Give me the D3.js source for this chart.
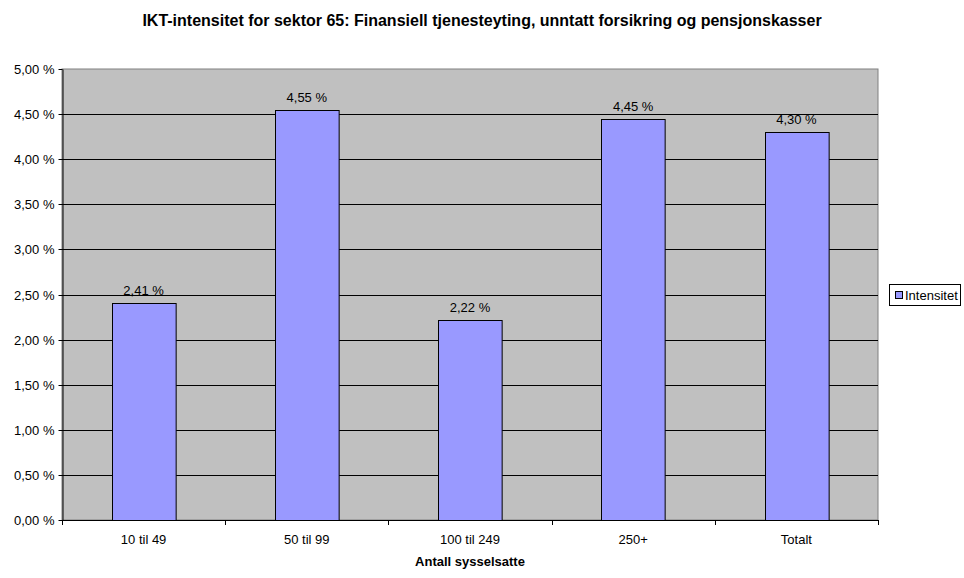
<!DOCTYPE html>
<html><head><meta charset="utf-8">
<script src="https://cdn.jsdelivr.net/npm/d3@7/dist/d3.min.js"></script>
<style>body{margin:0;background:#fff}svg{display:block;font-family:"Liberation Sans",Arial,sans-serif}</style>
</head><body>
<svg id="c" width="964" height="578"></svg>
<script>
const categories = ["10 til 49", "50 til 99", "100 til 249", "250+", "Totalt"];
const values = [2.41, 4.55, 2.22, 4.45, 4.30];
const yTicks = [0, 0.5, 1, 1.5, 2, 2.5, 3, 3.5, 4, 4.5, 5];
const seriesName = "Intensitet";
const title = "IKT-intensitet for sektor 65: Finansiell tjenesteyting, unntatt forsikring og pensjonskasser";
const xTitle = "Antall sysselsatte";

const svg = d3.select("#c");
const L = 62, R = 878, T = 69, B = 520;
const fmt = v => d3.format(".2f")(v).replace(".", ",") + " %";

const x = d3.scaleBand().domain(categories).range([L, R]).paddingInner(0.61).paddingOuter(0.305);
const y = d3.scaleLinear().domain([0, 5]).range([B, T]);

svg.append("rect").attr("x", L).attr("y", T).attr("width", R - L).attr("height", B - T)
  .attr("fill", "#c0c0c0").attr("stroke", "#808080").attr("stroke-width", 1);

svg.append("g").selectAll("line").data(yTicks.filter(d => d > 0 && d < 5)).join("line")
  .attr("x1", L).attr("x2", R).attr("y1", d => Math.round(y(d)) + 0.5).attr("y2", d => Math.round(y(d)) + 0.5)
  .attr("stroke", "#000");

// y axis
const ya = svg.append("g").attr("transform", `translate(${L + 0.5},0)`)
  .call(d3.axisLeft(y).tickValues(yTicks).tickFormat(fmt).tickSize(4).tickSizeOuter(0));
ya.select(".domain").attr("stroke", "#000");
ya.selectAll(".tick line").attr("stroke", "#000");
ya.selectAll(".tick text").attr("font-size", 13).attr("fill", "#000").attr("x", -8)
  .attr("font-family", "Liberation Sans, Arial, sans-serif");
ya.selectAll(".tick").attr("transform", d => `translate(0,${Math.round(y(d)) + 0.5})`);

// bars
svg.append("g").selectAll("rect").data(values).join("rect")
  .attr("x", (d, i) => Math.round(x(categories[i])) + 0.5)
  .attr("y", d => Math.round(y(d)) + 0.5)
  .attr("width", x.bandwidth())
  .attr("height", d => B - Math.round(y(d)))
  .attr("fill", "#9999ff").attr("stroke", "#000").attr("stroke-width", 1);

// value labels
svg.append("g").selectAll("text").data(values).join("text")
  .attr("x", (d, i) => x(categories[i]) + x.bandwidth() / 2)
  .attr("y", d => y(d) - 8)
  .attr("text-anchor", "middle").attr("font-size", 13).text(d => fmt(d));

// x axis
svg.append("line").attr("x1", L).attr("x2", R).attr("y1", B + 0.5).attr("y2", B + 0.5).attr("stroke", "#000");
const step = (R - L) / categories.length;
svg.append("g").selectAll("line").data(d3.range(categories.length + 1)).join("line")
  .attr("x1", i => Math.round(L + i * step) + 0.5).attr("x2", i => Math.round(L + i * step) + 0.5)
  .attr("y1", B).attr("y2", B + 5).attr("stroke", "#000");
svg.append("g").selectAll("text").data(categories).join("text")
  .attr("x", d => x(d) + x.bandwidth() / 2).attr("y", 544)
  .attr("text-anchor", "middle").attr("font-size", 13).text(d => d);

svg.append("text").attr("x", 470).attr("y", 566).attr("text-anchor", "middle")
  .attr("font-size", 13).attr("font-weight", "bold").text(xTitle);
svg.append("text").attr("x", 482).attr("y", 26).attr("text-anchor", "middle")
  .attr("font-size", 16).attr("font-weight", "bold").text(title);

// legend
const lg = svg.append("g");
lg.append("rect").attr("x", 889.5).attr("y", 284.5).attr("width", 71).attr("height", 21)
  .attr("fill", "#fff").attr("stroke", "#000");
lg.append("rect").attr("x", 895.5).attr("y", 291.5).attr("width", 7).attr("height", 7)
  .attr("fill", "#9999ff").attr("stroke", "#000");
lg.append("text").attr("x", 905).attr("y", 300).attr("font-size", 13).text(seriesName);
</script>
</body></html>
